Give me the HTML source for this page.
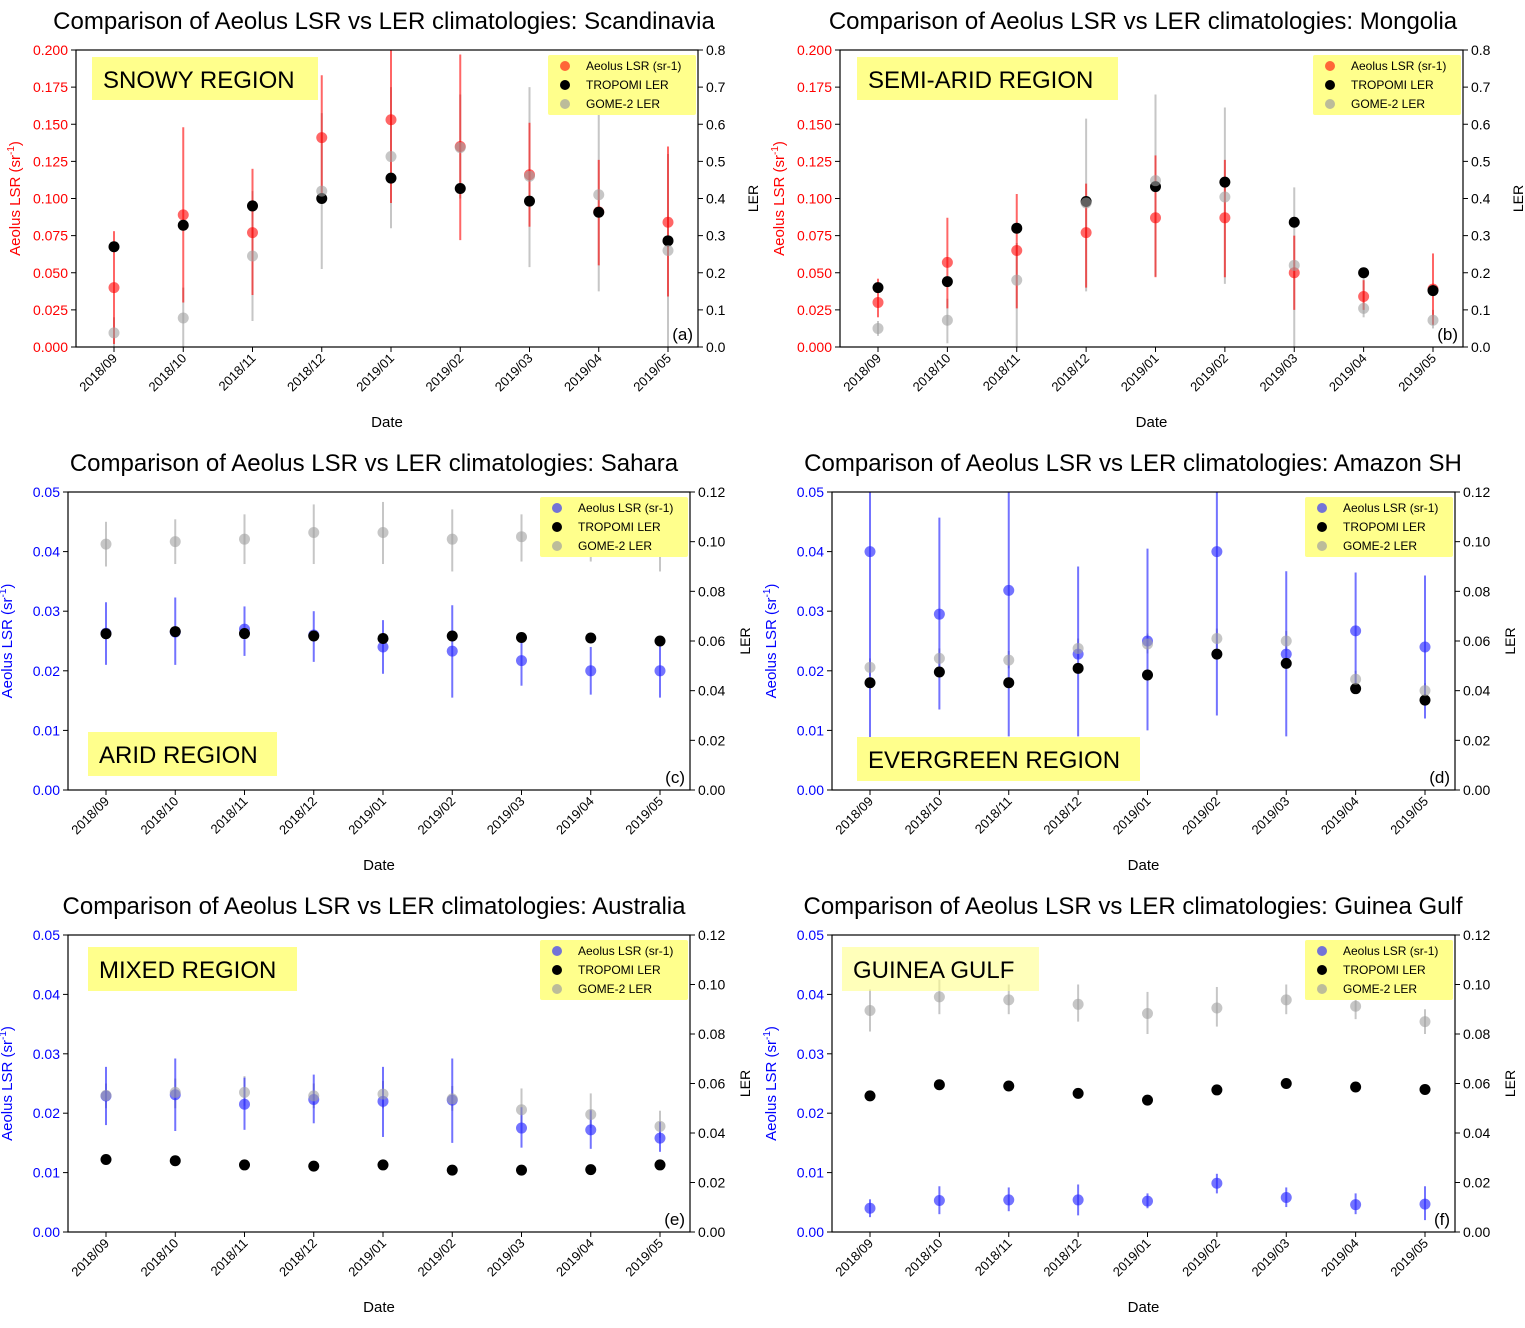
<!DOCTYPE html>
<html><head><meta charset="utf-8"><style>
body{margin:0;background:#fff;}
svg text{font-family:"Liberation Sans","DejaVu Sans",sans-serif;}
</style></head><body>
<svg id="fig" width="1525" height="1323" xmlns="http://www.w3.org/2000/svg"></svg>
<script>
const months=["2018/09","2018/10","2018/11","2018/12","2019/01","2019/02","2019/03","2019/04","2019/05"];
// Panel a Scandinavia
const aLSR=[0.040,0.089,0.077,0.141,0.153,0.135,0.116,0.091,0.084];
const aLSRlo=[0.002,0.030,0.035,0.100,0.097,0.072,0.081,0.055,0.034];
const aLSRhi=[0.078,0.148,0.120,0.183,0.205,0.197,0.151,0.126,0.135];
const aTRO=[0.27,0.328,0.38,0.40,0.455,0.427,0.393,0.363,0.286];
const aGOME=[0.038,0.078,0.245,0.42,0.513,0.537,0.46,0.41,0.26];
const aGOMElo=[0.0,0.0,0.07,0.21,0.32,0.40,0.215,0.15,0.0];
const aGOMEhi=[0.08,0.16,0.42,0.63,0.70,0.68,0.70,0.66,0.52];
// Panel b Mongolia
const bLSR=[0.030,0.057,0.065,0.077,0.087,0.087,0.050,0.034,0.039];
const bLSRlo=[0.020,0.026,0.026,0.040,0.047,0.047,0.025,0.025,0.015];
const bLSRhi=[0.046,0.087,0.103,0.110,0.129,0.126,0.075,0.045,0.063];
const bTRO=[0.16,0.176,0.32,0.392,0.432,0.444,0.336,0.20,0.152];
const bGOME=[0.05,0.072,0.18,0.388,0.448,0.404,0.22,0.104,0.072];
const bGOMElo=[0.03,0.01,0.0,0.15,0.19,0.17,0.0,0.08,0.05];
const bGOMEhi=[0.07,0.13,0.28,0.615,0.68,0.645,0.43,0.20,0.10];
// Panel c Sahara
const cLSR=[0.0263,0.0265,0.0270,0.0260,0.0240,0.0233,0.0217,0.0200,0.0200];
const cLSRlo=[0.021,0.021,0.0225,0.0215,0.0195,0.0155,0.0175,0.016,0.0155];
const cLSRhi=[0.0315,0.0323,0.0308,0.030,0.0285,0.031,0.026,0.024,0.025];
const cTRO=[0.0629,0.0638,0.063,0.062,0.061,0.062,0.0614,0.0612,0.060];
const cGOME=[0.099,0.100,0.101,0.1037,0.1037,0.101,0.102,0.1003,0.096];
const cGOMElo=[0.090,0.091,0.091,0.091,0.091,0.088,0.092,0.092,0.088];
const cGOMEhi=[0.108,0.109,0.111,0.115,0.116,0.113,0.111,0.110,0.104];
// Panel d Amazon SH
const dLSR=[0.040,0.0295,0.0335,0.0228,0.025,0.040,0.0228,0.0267,0.024];
const dLSRlo=[0.008,0.0135,0.009,0.009,0.010,0.0125,0.009,0.017,0.012];
const dLSRhi=[0.052,0.0457,0.052,0.0375,0.0405,0.052,0.0367,0.0365,0.036];
const dTRO=[0.0432,0.0475,0.0432,0.049,0.0463,0.0547,0.051,0.0408,0.0362];
const dGOME=[0.0494,0.053,0.0523,0.057,0.0588,0.061,0.060,0.0446,0.040];
const dGOMElo=[0.046,0.049,0.049,0.053,0.055,0.057,0.056,0.041,0.037];
const dGOMEhi=[0.053,0.057,0.056,0.061,0.063,0.065,0.064,0.048,0.043];
// Panel e Australia
const eLSR=[0.0229,0.0231,0.0215,0.0223,0.0220,0.0222,0.0175,0.0172,0.0158];
const eLSRlo=[0.018,0.017,0.0172,0.0183,0.016,0.015,0.0142,0.014,0.0135];
const eLSRhi=[0.0278,0.0292,0.026,0.0265,0.0278,0.0292,0.021,0.0205,0.0185];
const eTRO=[0.0293,0.0288,0.0271,0.0266,0.0271,0.025,0.025,0.0252,0.0271];
const eGOME=[0.0552,0.0564,0.0564,0.055,0.0557,0.0538,0.0494,0.0475,0.0427];
const eGOMElo=[0.050,0.050,0.051,0.050,0.050,0.049,0.044,0.042,0.038];
const eGOMEhi=[0.060,0.062,0.063,0.060,0.061,0.059,0.058,0.056,0.049];
// Panel f Guinea Gulf
const fLSR=[0.0040,0.0053,0.0054,0.0054,0.0052,0.0082,0.0058,0.0046,0.0047];
const fLSRlo=[0.0025,0.003,0.0035,0.0028,0.004,0.0065,0.0042,0.003,0.002];
const fLSRhi=[0.0055,0.0077,0.0075,0.008,0.0065,0.0098,0.0075,0.0065,0.0077];
const fTRO=[0.055,0.0595,0.059,0.056,0.0533,0.0574,0.060,0.0586,0.0576];
const fGOME=[0.0895,0.095,0.0938,0.092,0.0883,0.0905,0.0938,0.0912,0.085];
const fGOMElo=[0.081,0.088,0.088,0.085,0.080,0.083,0.088,0.086,0.080];
const fGOMEhi=[0.098,0.102,0.100,0.100,0.097,0.099,0.100,0.097,0.090];
const ticksL1=[0,0.025,0.05,0.075,0.1,0.125,0.15,0.175,0.2];
const ticksR1=[0,0.1,0.2,0.3,0.4,0.5,0.6,0.7,0.8];
const ticksL2=[0,0.01,0.02,0.03,0.04,0.05];
const ticksR2=[0,0.02,0.04,0.06,0.08,0.10,0.12];

const NS="http://www.w3.org/2000/svg";
const svg=document.getElementById('fig');
function mk(tag,attrs,parent){const e=document.createElementNS(NS,tag);for(const k in attrs)e.setAttribute(k,attrs[k]);(parent||svg).appendChild(e);return e;}

const panels=[
 {id:'a',l:76,t:50,r:698,b:347,title:'Scandinavia',region:'SNOWY REGION',rb:[92,57,226,43],rbFill:'#ffff8c',lmax:0.2,rmax:0.8,tl:ticksL1,tr:ticksR1,fl:3,fr:1,col:'#ff0000',mcol:'rgba(255,0,0,0.6)',lsr:aLSR,lo:aLSRlo,hi:aLSRhi,tro:aTRO,g:aGOME,glo:aGOMElo,ghi:aGOMEhi,tx:384,ty:29},
 {id:'b',l:840,t:50,r:1463,b:347,title:'Mongolia',region:'SEMI-ARID REGION',rb:[857,57,261,43],rbFill:'#ffff8c',lmax:0.2,rmax:0.8,tl:ticksL1,tr:ticksR1,fl:3,fr:1,col:'#ff0000',mcol:'rgba(255,0,0,0.6)',lsr:bLSR,lo:bLSRlo,hi:bLSRhi,tro:bTRO,g:bGOME,glo:bGOMElo,ghi:bGOMEhi,tx:1143,ty:29},
 {id:'c',l:68,t:492,r:690,b:790,title:'Sahara',region:'ARID REGION',rb:[88,732,189,44],rbFill:'#ffff8c',lmax:0.05,rmax:0.12,tl:ticksL2,tr:ticksR2,fl:2,fr:2,col:'#0000ff',mcol:'rgba(40,40,255,0.65)',lsr:cLSR,lo:cLSRlo,hi:cLSRhi,tro:cTRO,g:cGOME,glo:cGOMElo,ghi:cGOMEhi,tx:374,ty:471},
 {id:'d',l:832,t:492,r:1455,b:790,title:'Amazon SH',region:'EVERGREEN REGION',rb:[857,737,283,44],rbFill:'#ffff8c',lmax:0.05,rmax:0.12,tl:ticksL2,tr:ticksR2,fl:2,fr:2,col:'#0000ff',mcol:'rgba(40,40,255,0.65)',lsr:dLSR,lo:dLSRlo,hi:dLSRhi,tro:dTRO,g:dGOME,glo:dGOMElo,ghi:dGOMEhi,tx:1133,ty:471},
 {id:'e',l:68,t:935,r:690,b:1232,title:'Australia',region:'MIXED REGION',rb:[88,947,209,44],rbFill:'#ffff8c',lmax:0.05,rmax:0.12,tl:ticksL2,tr:ticksR2,fl:2,fr:2,col:'#0000ff',mcol:'rgba(40,40,255,0.65)',lsr:eLSR,lo:eLSRlo,hi:eLSRhi,tro:eTRO,g:eGOME,glo:eGOMElo,ghi:eGOMEhi,tx:374,ty:914},
 {id:'f',l:832,t:935,r:1455,b:1232,title:'Guinea Gulf',region:'GUINEA GULF',rb:[842,947,197,44],rbFill:'rgba(255,255,140,0.6)',lmax:0.05,rmax:0.12,tl:ticksL2,tr:ticksR2,fl:2,fr:2,col:'#0000ff',mcol:'rgba(40,40,255,0.65)',lsr:fLSR,lo:fLSRlo,hi:fLSRhi,tro:fTRO,g:fGOME,glo:fGOMElo,ghi:fGOMEhi,tx:1133,ty:914}
];

panels.forEach(p=>{
 const g=mk('g',{});
 
 
 const x0=p.l+38,x1=p.r-30;
 const xs=i=>x0+(x1-x0)*i/(months.length-1);
 const yl=v=>p.b-(p.b-p.t)*v/p.lmax;
 const yr=v=>p.b-(p.b-p.t)*v/p.rmax;
 const cp=mk('clipPath',{id:'clip'+p.id},g);
 mk('rect',{x:p.l,y:p.t,width:p.r-p.l,height:p.b-p.t},cp);
 const title=mk('text',{x:p.tx,y:p.ty,'font-size':24,'text-anchor':'middle'},g);
 title.textContent='Comparison of Aeolus LSR vs LER climatologies: '+p.title;
 
 
 const plot=mk('g',{'clip-path':'url(#clip'+p.id+')'},g);
 p.g.forEach((v,i)=>{
  const l=mk('line',{x1:xs(i),x2:xs(i),y1:yr(p.glo[i]),y2:yr(p.ghi[i]),stroke:'rgba(160,160,160,0.6)','stroke-width':2},plot);
  
  
 });
 p.lsr.forEach((v,i)=>{
  const l=mk('line',{x1:xs(i),x2:xs(i),y1:yl(p.lo[i]),y2:yl(p.hi[i]),stroke:p.mcol,'stroke-width':2},plot);
  
  
 });
 p.lsr.forEach((v,i)=>{
  const c=mk('circle',{cx:xs(i),cy:yl(v),r:5.5,fill:p.mcol},plot);
  
  
 });
 p.tro.forEach((v,i)=>{
  const c=mk('circle',{cx:xs(i),cy:yr(v),r:5.5,fill:'#000'},plot);
  
  
 });
 p.g.forEach((v,i)=>{
  const c=mk('circle',{cx:xs(i),cy:yr(v),r:5.5,fill:'rgba(160,160,160,0.6)'},plot);
  
  
 });
 mk('rect',{x:p.l,y:p.t,width:p.r-p.l,height:p.b-p.t,fill:'none',stroke:'#000','stroke-width':1.2},g);
 p.tl.forEach(v=>{
  const y=yl(v);
  mk('line',{x1:p.l-5,x2:p.l,y1:y,y2:y,stroke:'#000'},g);
  const t=mk('text',{x:p.l-8,y:y+5,'font-size':14,'text-anchor':'end',fill:p.col},g);
  t.textContent=v.toFixed(p.fl);
  
  
 });
 p.tr.forEach(v=>{
  const y=yr(v);
  mk('line',{x1:p.r,x2:p.r+5,y1:y,y2:y,stroke:'#000'},g);
  const t=mk('text',{x:p.r+8,y:y+5,'font-size':14,fill:'#000'},g);
  t.textContent=v.toFixed(p.fr);
  
  
 });
 months.forEach((m,i)=>{
  const x=xs(i);
  mk('line',{x1:x,x2:x,y1:p.b,y2:p.b+5,stroke:'#000'},g);
  const t=mk('text',{x:x+4,y:p.b+12,'font-size':13,'text-anchor':'end',transform:`rotate(-45 ${x+4} ${p.b+12})`},g);
  t.textContent=m;
  
  
 });
 const dl=mk('text',{x:(p.l+p.r)/2,y:p.b+80,'font-size':15,'text-anchor':'middle'},g);
 dl.textContent='Date';
 
 
 const yt=mk('text',{x:p.l-56,y:(p.t+p.b)/2,'font-size':15,'text-anchor':'middle',fill:p.col,transform:`rotate(-90 ${p.l-56} ${(p.t+p.b)/2})`},g);
 yt.innerHTML='Aeolus LSR (sr<tspan dy="-6" font-size="10">-1</tspan><tspan dy="6">)</tspan>';
 
 
 const rxx=p.r+60;
 const rt=mk('text',{x:rxx,y:(p.t+p.b)/2,'font-size':14,'text-anchor':'middle',transform:`rotate(-90 ${rxx} ${(p.t+p.b)/2})`},g);
 rt.textContent='LER';
 
 
 const pl=mk('text',{x:p.r-5,y:p.b-7,'font-size':17,'text-anchor':'end'},g);
 pl.textContent='('+p.id+')';
 
 
 const rbx=mk('rect',{x:p.rb[0],y:p.rb[1],width:p.rb[2],height:p.rb[3],fill:p.rbFill},g);
 
 
 const rtx=mk('text',{x:p.rb[0]+11,y:p.rb[1]+31,'font-size':24},g);
 rtx.textContent=p.region;
 
 
 const lx=p.r-150,ly=p.t+5;
 const lg=mk('g',{},g);
 
 
 mk('rect',{x:lx,y:ly,width:148,height:60,fill:'#ffff8c',rx:2},lg);
 const ents=[['Aeolus LSR (sr-1)',p.mcol],['TROPOMI LER','#000'],['GOME-2 LER','rgba(160,160,160,0.7)']];
 ents.forEach((e,k)=>{
  const cy=ly+11+k*19;
  const c=mk('circle',{cx:lx+17,cy:cy,r:5,fill:e[1]},lg);
  
  
  const t=mk('text',{x:lx+38,y:cy+4,'font-size':12},lg);
  t.textContent=e[0];
  
  
 });
});
</script>
</body></html>
